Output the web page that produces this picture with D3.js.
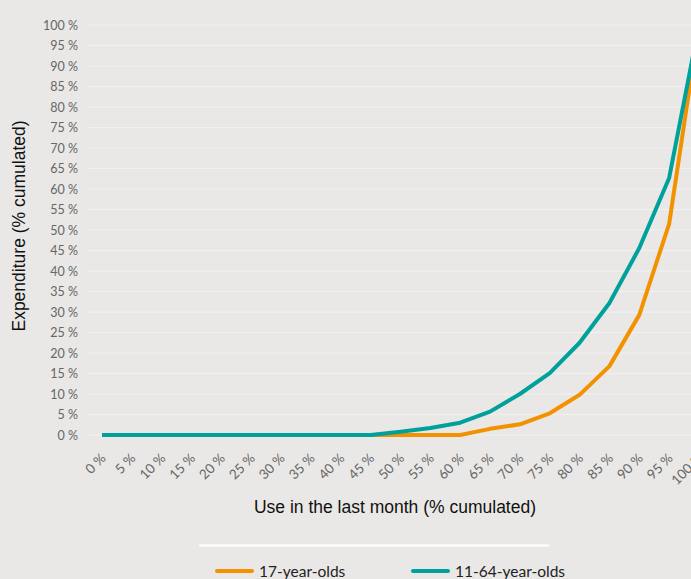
<!DOCTYPE html>
<html>
<head>
<meta charset="utf-8">
<script src="https://cdn.jsdelivr.net/npm/d3@7"></script>
<style>
  html, body { margin: 0; padding: 0; background: #e9e8e6; overflow: hidden; }
</style>
</head>
<body>
<script>
// share of users (cumulated), x axis
var usePct = [0, 5, 10, 15, 20, 25, 30, 35, 40, 45, 50, 55, 60, 65, 70, 75, 80, 85, 90, 95, 100];
// expenditure (cumulated) for each group
var teens17 = [0, 0, 0, 0, 0, 0, 0, 0, 0, 0, 0, 0, 0, 1.5, 2.6, 5.3, 9.8, 16.8, 29.3, 51.5, 100];
var adults1164 = [0, 0, 0, 0, 0, 0, 0, 0, 0, 0, 0.8, 1.7, 3.0, 5.7, 10.0, 15.1, 22.5, 32.2, 45.6, 62.7, 100];
var yTicks = d3.range(0, 101, 5);

var series = [
    {name: '17-year-olds', values: teens17, color: '#f39200'},
    {name: '11-64-year-olds', values: adults1164, color: '#00a19a'}
];

var svg = d3.select('body')
    .append('svg')
    .attr('width', 691)
    .attr('height', 579);

var x = d3.scaleLinear().domain([0, 100]).range([102, 699]);
var y = d3.scaleLinear().domain([0, 100]).range([435, 25]);

// gridlines
svg.append('g')
    .selectAll('line')
    .data(yTicks)
    .join('line')
    .attr('x1', 88)
    .attr('x2', 691)
    .attr('y1', function(d) { return y(d); })
    .attr('y2', function(d) { return y(d); })
    .attr('stroke', '#f2f1ef')
    .attr('stroke-width', 1);

// y axis labels
var yAxis = svg.append('g')
    .attr('transform', 'translate(88,0)')
    .call(d3.axisLeft(y).tickValues(yTicks).tickSize(0).tickPadding(10)
        .tickFormat(function(d) { return d + ' %'; }));
yAxis.select('.domain').remove();
yAxis.selectAll('text')
    .attr('font-family', 'Lato')
    .attr('font-size', 12.5)
    .attr('fill', '#666');

// x axis labels
var xAxis = svg.append('g')
    .attr('transform', 'translate(0,440)')
    .call(d3.axisBottom(x).tickValues(usePct).tickSize(0)
        .tickFormat(function(d) { return d + ' %'; }));
xAxis.select('.domain').remove();
xAxis.selectAll('text')
    .attr('font-family', 'Lato')
    .attr('font-size', 13.5)
    .attr('fill', '#666')
    .attr('text-anchor', 'end')
    .attr('dy', 0)
    .attr('transform', 'translate(2,17) rotate(-45)');

var line = d3.line()
    .x(function(d, i) { return x(usePct[i]); })
    .y(function(d) { return y(d); });

svg.append('g')
    .selectAll('path')
    .data(series)
    .join('path')
    .attr('d', function(s) { return line(s.values); })
    .attr('fill', 'none')
    .attr('stroke', function(s) { return s.color; })
    .attr('stroke-width', 4)
    .attr('stroke-linejoin', 'round');

// axis titles
svg.append('text')
    .attr('transform', 'translate(25,226) rotate(-90)')
    .attr('font-family', 'Liberation Sans')
    .attr('font-size', 17.5)
    .attr('fill', '#111')
    .style('text-anchor', 'middle')
    .text('Expenditure (% cumulated)');

svg.append('text')
    .attr('x', 395)
    .attr('y', 513)
    .attr('font-family', 'Liberation Sans')
    .attr('font-size', 17.5)
    .attr('fill', '#111')
    .style('text-anchor', 'middle')
    .text('Use in the last month (% cumulated)');

// legend
svg.append('line')
    .attr('x1', 199)
    .attr('x2', 549)
    .attr('y1', 545.5)
    .attr('y2', 545.5)
    .attr('stroke', '#fff')
    .attr('stroke-width', 2);

var legendX = [217, 413];
var legend = svg.append('g')
    .selectAll('g')
    .data(series)
    .join('g')
    .attr('transform', function(s, i) { return 'translate(' + legendX[i] + ',571)'; });

legend.append('line')
    .attr('x1', 0)
    .attr('x2', 35)
    .attr('stroke', function(s) { return s.color; })
    .attr('stroke-width', 4)
    .attr('stroke-linecap', 'round');

legend.append('text')
    .attr('x', 42)
    .attr('y', 6)
    .attr('font-family', 'Lato')
    .attr('font-size', 15.5)
    .attr('fill', '#222')
    .text(function(s) { return s.name; });
</script>
</body>
</html>
